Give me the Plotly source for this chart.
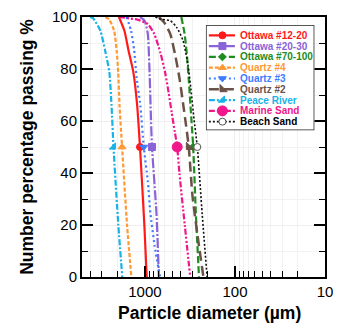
import plotly.graph_objects as go

# Cumulative number-based size distributions: diameter (µm) vs % passing
ottawa_12_20_d = [1945, 1690, 1520, 1345, 1220, 1135, 1015, 955]
ottawa_12_20_p = [100, 94.7, 87, 78.8, 66, 50, 20, 0]

ottawa_20_30_d = [1135, 1010, 930, 895, 860, 835, 745, 700]
ottawa_20_30_p = [100, 98.6, 93.6, 82, 63, 50, 24.7, 0]

ottawa_70_100_d = [394, 363, 343, 326, 308, 291, 272, 251]
ottawa_70_100_p = [100, 93.6, 86, 75.9, 63, 50, 24.7, 0]

quartz_4_d = [2745, 2490, 2200, 2060, 1980, 1915, 1795, 1580, 1415]
quartz_4_p = [100, 99, 94.7, 87, 78.8, 66, 50, 20, 0]

quartz_3_d = [1600, 1425, 1315, 1240, 1125, 1030, 930, 870, 780, 680]
quartz_3_p = [100, 94.7, 87, 77, 66, 50, 37, 24.7, 12, 0]

quartz_2_d = [700, 614, 525, 465, 411, 378, 349, 326, 296, 251, 224]
quartz_2_p = [100, 98, 93.6, 86, 75.9, 67, 58.2, 50, 31, 12, 0]

peace_river_d = [4070, 3780, 3125, 2765, 2485, 2350, 2235, 1975, 1785]
peace_river_p = [100, 99.6, 94.7, 87, 78.8, 66, 50, 20, 0]

marine_sand_d = [1945, 1190, 930, 790, 670, 595, 545, 505, 465, 438, 414, 361, 314]
marine_sand_p = [100, 98.9, 97.3, 93.6, 86, 78.4, 70.8, 63.3, 55.7, 50, 40, 20, 0]

beach_sand_d = [765, 672, 525, 446, 378, 334, 308, 285, 262, 231, 204]
beach_sand_p = [100, 99.2, 98.6, 96.1, 91, 82, 72, 60.7, 50, 24, 0]

sample_names = ["Ottawa #12-20", "Ottawa #20-30", "Ottawa #70-100", "Quartz #4",
                "Quartz #3", "Quartz #2", "Peace River", "Marine Sand", "Beach Sand"]
sample_d = [ottawa_12_20_d, ottawa_20_30_d, ottawa_70_100_d, quartz_4_d,
            quartz_3_d, quartz_2_d, peace_river_d, marine_sand_d, beach_sand_d]
sample_p = [ottawa_12_20_p, ottawa_20_30_p, ottawa_70_100_p, quartz_4_p,
            quartz_3_p, quartz_2_p, peace_river_p, marine_sand_p, beach_sand_p]

x_tick_vals = [1000, 100, 10]
x_tick_text = ["1000", "100", "10"]
x_minor_vals = [4000, 3000, 2000, 900, 800, 700, 600, 500, 400, 300, 200,
                90, 80, 70, 60, 50, 40, 30, 20]

# line / marker styling per sample
styles = [
    dict(color="#ff1a1a", dash="solid", width=2.2, symbol="circle", size=7, text="#ff1a1a"),
    dict(color="#8a63d8", dash="10px,2px,2px,2px", width=2.2, symbol="square", size=7, text="#8a63d8"),
    dict(color="#1e8c1e", dash="7px,3px", width=2.2, symbol="diamond", size=6, text="#1e8c1e"),
    dict(color="#ff9933", dash="4px,2px", width=2.2, symbol="triangle-up", size=7, text="#ff9933"),
    dict(color="#3d7bff", dash="2px,3px", width=2.2, symbol="triangle-down", size=7, text="#3d7bff"),
    dict(color="#6b5147", dash="10px,5px", width=2.5, symbol="triangle-sw", size=8, text="#6b5147"),
    dict(color="#19b2e6", dash="6px,2px,2px,2px", width=2.2, symbol="triangle-se", size=7, text="#19b2e6"),
    dict(color="#f0168c", dash="6px,2px,2px,2px,2px,2px", width=2.2, symbol="circle", size=10, text="#f0168c"),
    dict(color="#111111", dash="2px,2px", width=1.6, symbol="circle", size=7, text="#000000"),
]

FONT = "Liberation Sans, Arial, sans-serif"

fig = go.Figure()

for name, d, p, st in zip(sample_names, sample_d, sample_p, styles):
    fig.add_trace(go.Scatter(
        x=d, y=p, mode="lines", name=name, showlegend=False,
        line=dict(color=st["color"], dash=st["dash"], width=st["width"],
                  shape="spline", smoothing=0.6),
        hoverinfo="skip"))
    i50 = p.index(50)
    is_open = name == "Beach Sand"
    fig.add_trace(go.Scatter(
        x=[d[i50]], y=[50], mode="markers", showlegend=False,
        marker=dict(symbol=st["symbol"], size=st["size"],
                    color="white" if is_open else st["color"],
                    line=dict(color="#555555" if is_open else st["color"], width=1)),
        hoverinfo="skip"))

# compact legend drawn on its own small axes
n = len(sample_names)
row_y = [(128 - (31.6 + 10.96 * i)) / 107 for i in range(n)]
for i, (name, st) in enumerate(zip(sample_names, styles)):
    is_open = name == "Beach Sand"
    fig.add_trace(go.Scatter(
        x=[0.027, 0.268], y=[row_y[i], row_y[i]], mode="lines", xaxis="x2", yaxis="y2",
        showlegend=False, hoverinfo="skip",
        line=dict(color=st["color"], dash=st["dash"], width=st["width"])))
    fig.add_trace(go.Scatter(
        x=[0.152], y=[row_y[i]], mode="markers", xaxis="x2", yaxis="y2",
        showlegend=False, hoverinfo="skip",
        marker=dict(symbol=st["symbol"], size=st["size"],
                    color="white" if is_open else st["color"],
                    line=dict(color="#555555" if is_open else st["color"], width=1))))
    fig.add_annotation(x=0.295, y=row_y[i], xref="x2", yref="y2", text=name,
                       showarrow=False, xanchor="left", yanchor="middle",
                       font=dict(family=FONT, size=10, color=st["text"], weight="bold"))

fig.add_shape(type="rect", xref="x2", yref="y2", x0=0, x1=1, y0=0, y1=1,
              layer="below", fillcolor="white", line=dict(color="#222222", width=1.5))

fig.add_annotation(x=0.525, y=-0.137, xref="paper", yref="paper",
                   text="Particle diameter (µm)", showarrow=False,
                   xanchor="center", yanchor="middle",
                   font=dict(family=FONT, size=17.5, color="black", weight="bold"))
fig.add_annotation(x=-0.227, y=0.5, xref="paper", yref="paper",
                   text="Number percentage passing %", showarrow=False, textangle=-90,
                   xanchor="center", yanchor="middle",
                   font=dict(family=FONT, size=17.5, color="black", weight="bold"))

fig.update_layout(
    width=341, height=328,
    margin=dict(l=82, r=8, t=13, b=51),
    paper_bgcolor="white", plot_bgcolor="white",
    showlegend=False,
    font=dict(family=FONT, size=15, color="black"),
    xaxis=dict(
        type="log", range=[3.699, 1], tickmode="array",
        tickvals=x_tick_vals, ticktext=x_tick_text,
        ticks="inside", ticklen=11, tickwidth=1.5, tickcolor="black",
        showline=True, linewidth=2, linecolor="black", mirror=True,
        showgrid=True, gridcolor="#eeeeee", gridwidth=1, zeroline=False,
        tickfont=dict(family=FONT, size=15, color="black"),
        minor=dict(tickmode="array", tickvals=x_minor_vals, ticks="inside",
                   ticklen=6, tickwidth=1.2, tickcolor="black",
                   showgrid=True, gridcolor="#f2f2f2", gridwidth=1),
    ),
    yaxis=dict(
        range=[0, 100], tickmode="linear", tick0=0, dtick=20,
        ticks="inside", ticklen=11, tickwidth=1.5, tickcolor="black",
        showline=True, linewidth=2, linecolor="black", mirror="ticks",
        showgrid=True, gridcolor="#eeeeee", gridwidth=1, zeroline=False,
        tickfont=dict(family=FONT, size=15, color="black"),
        minor=dict(dtick=10, ticks="inside", ticklen=6, tickwidth=1.2,
                   tickcolor="black", showgrid=True, gridcolor="#f2f2f2"),
    ),
    xaxis2=dict(domain=[0.51, 0.9562], range=[0, 1], anchor="y2",
                visible=False, fixedrange=True),
    yaxis2=dict(domain=[0.5644, 0.9697], range=[0, 1], anchor="x2",
                visible=False, fixedrange=True),
)

fig.write_html("out.html")
